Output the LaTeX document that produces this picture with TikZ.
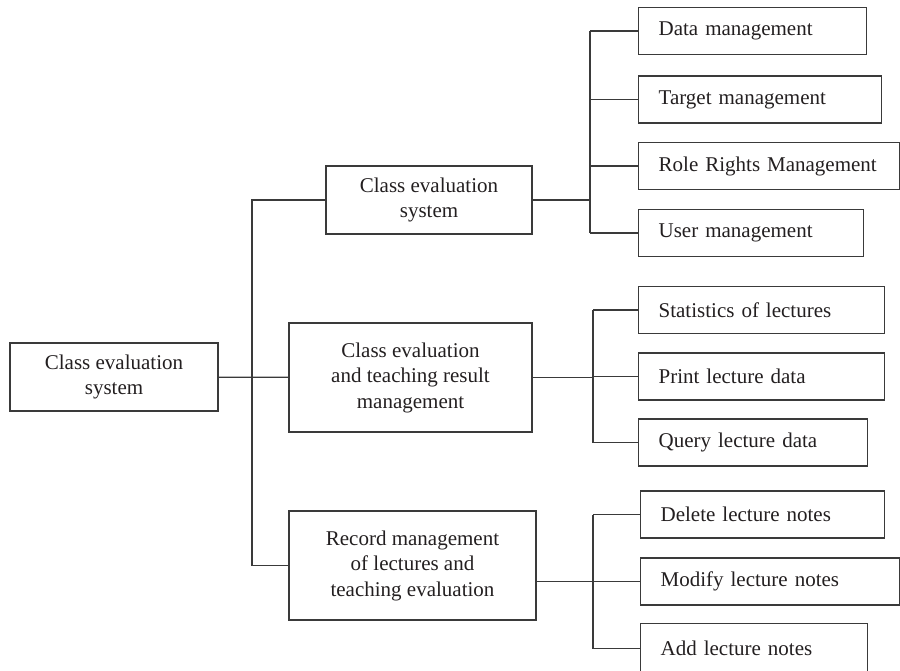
\documentclass[tikz,border=0pt]{standalone}
\usepackage{fontspec}
\setmainfont{Liberation Serif}
\usetikzlibrary{positioning,calc}

\definecolor{inkgray}{HTML}{231F20}
\definecolor{linegray}{HTML}{3A3A3A}

\tikzset{
    midbox/.style={draw=linegray, line width=1.3pt, rectangle, align=center, inner sep=0pt},
    leaf/.style={draw=linegray, line width=1.3pt, rectangle, anchor=west, align=left,
        inner xsep=20pt, inner ysep=0pt, minimum height=47pt, text width=#1},
    link/.style={draw=linegray, line width=1.3pt}
}

\begin{document}
\begin{tikzpicture}[x=1pt, y=-1pt, every node/.style={text=inkgray, font=\fontsize{21}{25.5}\selectfont}]
    \useasboundingbox (0,0) rectangle (900,670);

    % Root
    \node[midbox, minimum width=208pt, minimum height=68pt] (root) at (114,377) {Class evaluation\\system};

    % Second level
    \node[midbox, minimum width=206pt, minimum height=68pt] (sys) at (429,200) {Class evaluation\\system};
    \node[midbox, minimum width=243pt, minimum height=109pt] (result) at (410.5,377.5) {Class evaluation\\and teaching result\\management};
    \node[midbox, minimum width=247pt, minimum height=109pt] (record) at (412.5,565.5) {Record management\\of lectures and\\teaching evaluation};

    % Leaves of the system box
    \node[leaf=188pt] (data) at (638,31) {Data management};
    \node[leaf=203pt] (target) at (638,99.5) {Target management};
    \node[leaf=221pt] (role) at (638,166) {Role Rights Management};
    \node[leaf=185pt] (user) at (638,233) {User management};

    % Leaves of the result box
    \node[leaf=206pt] (stats) at (638,310) {Statistics of lectures};
    \node[leaf=206pt] (print) at (638,376.5) {Print lecture data};
    \node[leaf=189pt] (query) at (638,442.5) {Query lecture data};

    % Leaves of the record box
    \node[leaf=204pt] (delete) at (640,514.5) {Delete lecture notes};
    \node[leaf=219pt] (modify) at (640,581.5) {Modify lecture notes};
    \node[leaf=187pt, minimum height=50pt] (add) at (640,648.5) {Add lecture notes};

    % Trunk positions
    \coordinate (tk) at (252,0);
    \coordinate (b1) at (590,0);
    \coordinate (b2) at (593,0);

    % Connections
    \draw[link] (root) -- (result);
    \draw[link] (sys.west) -| (tk |- record.west) -- (record.west);

    \draw[link] (sys.east) -- (sys.east -| b1);
    \draw[link] (data.west -| b1) -- (user.west -| b1);
    \foreach \n in {data,target,role,user} {
        \draw[link] (\n.west -| b1) -- (\n.west);
    }

    \draw[link] (result.east) -- (result.east -| b2);
    \draw[link] (stats.west -| b2) -- (query.west -| b2);
    \foreach \n in {stats,print,query} {
        \draw[link] (\n.west -| b2) -- (\n.west);
    }

    \draw[link] (record.east |- modify.west) -- (modify.west -| b2);
    \draw[link] (delete.west -| b2) -- (add.west -| b2);
    \foreach \n in {delete,modify,add} {
        \draw[link] (\n.west -| b2) -- (\n.west);
    }
\end{tikzpicture}
\end{document}
